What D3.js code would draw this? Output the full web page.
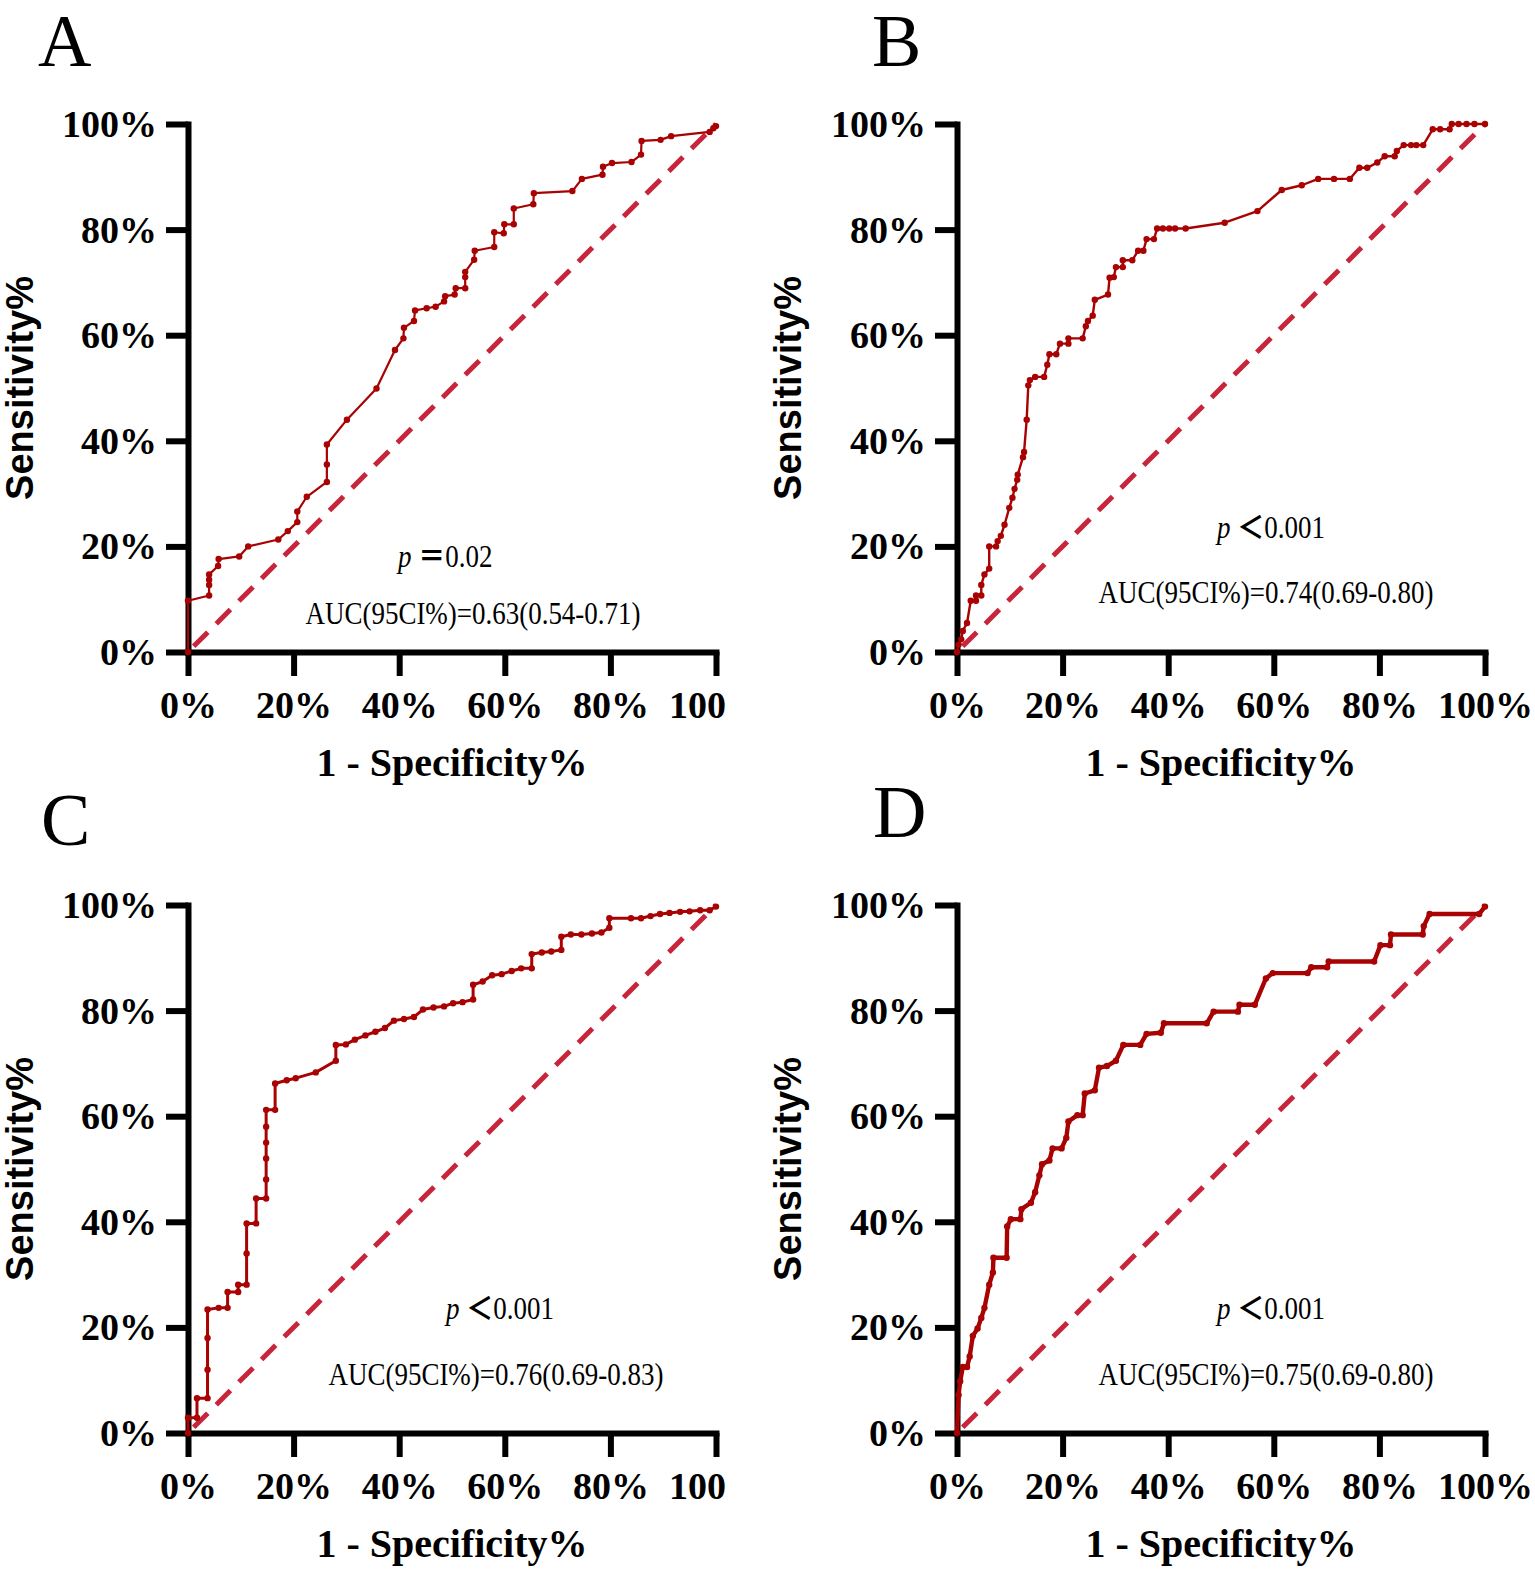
<!DOCTYPE html>
<html>
<head>
<meta charset="utf-8">
<script src="https://cdn.jsdelivr.net/npm/d3@7"></script>
<style>
  html, body { margin: 0; padding: 0; background: #fff; }
  svg { display: block; }
</style>
</head>
<body>
<svg id="chart" width="1535" height="1572"></svg>
<script>
// ---------------- DATA ----------------
const panelLetters = ["A", "B", "C", "D"];

const xTickValues = [0, 20, 40, 60, 80, 100];
const yTickValues = [0, 20, 40, 60, 80, 100];
const xTickLabelsLeft = ["0%", "20%", "40%", "60%", "80%", "100"];
const xTickLabelsRight = ["0%", "20%", "40%", "60%", "80%", "100%"];
const yTickLabels = ["0%", "20%", "40%", "60%", "80%", "100%"];

const xTitle = "1 - Specificity%";
const yTitle = "Sensitivity%";

const pOperators = ["＝", "＜", "＜", "＜"];
const pValues = ["0.02", "0.001", "0.001", "0.001"];
const aucLabels = [
  "AUC(95CI%)=0.63(0.54-0.71)",
  "AUC(95CI%)=0.74(0.69-0.80)",
  "AUC(95CI%)=0.76(0.69-0.83)",
  "AUC(95CI%)=0.75(0.69-0.80)"
];

// Panel A: 1 - specificity (%) and sensitivity (%)
const fprA = [0, 0, 4.0, 4.0, 4.0, 4.0, 5.7, 5.8, 9.7, 11.4, 17.1, 18.9, 20.7, 20.7, 22.5, 26.3, 26.3, 26.3,
  30.1, 35.7, 39.2, 40.8, 40.9, 42.8, 43.0, 45.2, 46.9, 48.5, 48.7, 50.5, 50.7, 52.5, 52.5, 52.5, 54.2, 54.3,
  58.0, 58.0, 59.8, 59.9, 61.7, 61.7, 65.4, 65.5, 72.8, 74.6, 78.5, 78.6, 80.3, 84.0, 85.8, 85.9, 89.5, 91.5,
  98.8, 99.5, 100];
const tprA = [0, 9.7, 10.7, 12.7, 13.7, 14.7, 16.3, 17.6, 18.1, 20.0, 21.3, 22.9, 24.6, 26.6, 29.4, 32.2, 35.5, 39.3,
  44.0, 49.9, 57.2, 59.4, 61.4, 62.7, 64.7, 65.1, 65.4, 66.4, 67.4, 67.7, 68.9, 68.9, 71.0, 72.0, 74.3, 76.0,
  76.7, 79.5, 79.3, 81.0, 81.0, 84.0, 84.8, 86.9, 87.3, 89.6, 90.4, 91.9, 92.6, 92.8, 94.2, 96.8, 97.0, 97.7,
  98.5, 99.2, 99.6];

// Panel B
const fprB = [0, 0.3, 0.8, 1.1, 1.9, 2.6, 3.6, 3.6, 4.6, 4.6, 5.2, 6.1, 6.1, 7.4, 7.7, 8.3, 9.0, 9.9, 10.5, 10.9,
  11.4, 11.5, 12.5, 12.7, 13.2, 13.5, 13.8, 14.8, 16.5, 17.1, 17.5, 18.8, 19.5, 21.1, 21.1, 23.8, 24.4, 24.8,
  25.7, 26.1, 28.6, 28.9, 29.7, 30.1, 31.4, 31.4, 33.2, 34.3, 35.3, 35.9, 37.3, 37.9, 39.0, 40.2, 41.3, 43.3,
  50.7, 56.9, 61.5, 65.3, 68.4, 71.4, 74.4, 76.2, 77.7, 79.6, 81.0, 82.9, 83.3, 84.6, 86.0, 87.0, 88.3, 90.1,
  91.5, 93.3, 93.7, 95.0, 96.5, 98.0, 100];
const tprB = [0, 1.4, 2.4, 4.0, 5.5, 9.7, 9.7, 10.7, 10.7, 12.7, 14.7, 15.8, 20.0, 20.0, 21.0, 22.0, 24.1, 27.3, 29.2, 30.9,
  32.6, 33.6, 36.9, 37.9, 44.0, 50.5, 51.5, 52.1, 52.1, 54.4, 56.4, 56.4, 58.4, 58.4, 59.4, 59.4, 61.7, 62.7,
  63.7, 66.7, 67.7, 70.9, 71.0, 72.9, 72.9, 74.2, 74.2, 76.0, 76.0, 78.2, 78.2, 80.2, 80.2, 80.2, 80.2, 80.2,
  81.3, 83.5, 87.5, 88.4, 89.6, 89.6, 89.6, 91.7, 91.7, 92.7, 93.9, 93.9, 94.9, 96.0, 96.0, 96.0, 96.0, 99.0,
  99.0, 99.0, 100, 100, 100, 100, 100];

// Panel C
const fprC = [0, 0, 1.7, 1.7, 3.7, 3.7, 3.7, 3.7, 5.8, 7.5, 7.5, 9.5, 9.5, 11.1, 11.1, 11.1, 12.9, 12.9, 14.8,
  14.8, 14.8, 14.8, 14.8, 14.8, 16.5, 16.5, 18.7, 20.4, 24.2, 28.0, 28.0, 29.9, 31.6, 33.6, 35.5, 37.3, 39.0,
  40.9, 42.8, 44.5, 46.5, 48.5, 50.2, 52.0, 54.0, 54.0, 55.8, 57.6, 59.4, 61.3, 63.1, 65.1, 65.1, 67.0, 68.8,
  70.7, 70.7, 72.5, 74.5, 76.5, 78.3, 79.8, 79.8, 83.9, 85.8, 87.6, 89.4, 91.2, 93.2, 95.0, 97.0, 98.8, 100];
const tprC = [0, 2.9, 2.9, 6.6, 6.6, 12.0, 18.0, 23.4, 23.7, 23.7, 26.7, 26.7, 28.1, 28.1, 34.0, 39.7, 39.7, 44.4, 44.4,
  48.0, 52.0, 55.0, 58.0, 61.2, 61.2, 66.2, 66.8, 67.2, 68.3, 70.5, 73.5, 73.6, 74.5, 75.3, 76.0, 76.7, 78.1,
  78.4, 78.8, 80.2, 80.6, 80.8, 81.4, 81.6, 82.1, 84.9, 85.5, 86.7, 86.9, 87.5, 88.0, 88.0, 90.7, 91.0, 91.2,
  91.5, 94.0, 94.4, 94.4, 94.6, 94.8, 95.7, 97.5, 97.5, 97.5, 97.9, 98.3, 98.5, 98.7, 98.8, 99.0, 99.0, 99.7];

// Panel D
const fprD = [0, 0.3, 0.6, 1.1, 1.9, 2.4, 3.0, 3.9, 4.6, 5.2, 6.1, 6.8, 6.9, 9.4, 9.5, 10.2, 12.0, 12.2, 14.0,
  14.8, 15.6, 16.1, 17.5, 18.1, 19.8, 20.7, 21.1, 22.8, 23.8, 24.2, 26.1, 26.9, 28.4, 30.1, 31.5, 34.7, 35.9,
  38.6, 39.2, 47.3, 48.6, 53.2, 53.5, 56.4, 58.5, 59.8, 66.4, 67.1, 70.1, 70.4, 79.0, 80.2, 82.0, 82.2, 88.2,
  88.4, 89.5, 98.9, 100];
const tprD = [0, 7.2, 9.8, 12.5, 12.5, 14.5, 18.4, 19.8, 21.8, 23.7, 28.1, 30.4, 33.2, 33.2, 39.1, 40.5, 40.5, 42.4, 43.6,
  45.6, 48.8, 50.9, 51.6, 53.9, 53.9, 55.9, 59.0, 60.2, 60.2, 64.3, 64.9, 69.2, 69.5, 70.5, 73.5, 73.5, 75.6,
  75.8, 77.6, 77.6, 79.8, 79.8, 81.1, 81.1, 86.1, 87.1, 87.1, 88.2, 88.2, 89.3, 89.3, 92.4, 92.4, 94.4, 94.4,
  96.0, 98.3, 98.3, 99.7];

const fprSeries = [fprA, fprB, fprC, fprD];
const tprSeries = [tprA, tprB, tprC, tprD];

// ---------------- LAYOUT / STYLE ----------------
const curveColor = "#a80202";
const diagColor = "#c8253a";
const serif = '"Liberation Serif","Times New Roman",Times,serif';
const sans = '"Liberation Sans",Arial,Helvetica,sans-serif';

const layout = [
  { x0: 188, x1: 716, y0: 652, y1: 124, letterX: 38, letterY: 66, titleYX: 33, pX: 398, pY: 567, aucX: 473, aucY: 624, left: true, lw: 2.2 },
  { x0: 957, x1: 1485, y0: 652, y1: 124, letterX: 872, letterY: 66, titleYX: 801, pX: 1217, pY: 538, aucX: 1266, aucY: 603, left: false, lw: 2.4 },
  { x0: 188, x1: 716, y0: 1433, y1: 905, letterX: 41, letterY: 845, titleYX: 33, pX: 446, pY: 1319, aucX: 496, aucY: 1385, left: true, lw: 3.0 },
  { x0: 957, x1: 1485, y0: 1433, y1: 905, letterX: 873, letterY: 837, titleYX: 801, pX: 1217, pY: 1319, aucX: 1266, aucY: 1385, left: false, lw: 4.4 }
];

const svg = d3.select("#chart");
svg.append("rect").attr("width", 1535).attr("height", 1572).attr("fill", "#fff");

layout.forEach((L, i) => {
  const g = svg.append("g").attr("class", "panel panel-" + panelLetters[i]);
  const x = d3.scaleLinear().domain([0, 100]).range([L.x0, L.x1]);
  const y = d3.scaleLinear().domain([0, 100]).range([L.y0, L.y1]);

  // panel letter
  g.append("text")
    .attr("x", L.letterX).attr("y", L.letterY)
    .style("font-family", serif).style("font-size", "74px")
    .attr("fill", "#000")
    .text(panelLetters[i]);

  // y axis
  const yAxis = d3.axisLeft(y).tickValues(yTickValues)
    .tickFormat((d, k) => yTickLabels[k])
    .tickSize(22).tickSizeOuter(0).tickPadding(9);
  const gy = g.append("g").attr("transform", `translate(${L.x0},0)`).call(yAxis);
  gy.select(".domain").attr("stroke", "#000").attr("stroke-width", 6).attr("stroke-linecap", "square");
  gy.selectAll(".tick line").attr("stroke", "#000").attr("stroke-width", 6);
  gy.selectAll(".tick text")
    .attr("fill", "#000").attr("dy", "0.33em")
    .style("font-family", serif).style("font-size", "38px").style("font-weight", "bold");

  // x axis
  const labels = L.left ? xTickLabelsLeft : xTickLabelsRight;
  const xAxis = d3.axisBottom(x).tickValues(xTickValues)
    .tickFormat((d, k) => labels[k])
    .tickSize(24).tickSizeOuter(0).tickPadding(10);
  const gx = g.append("g").attr("transform", `translate(0,${L.y0})`).call(xAxis);
  gx.select(".domain").attr("stroke", "#000").attr("stroke-width", 6).attr("stroke-linecap", "square");
  gx.selectAll(".tick line").attr("stroke", "#000").attr("stroke-width", 6);
  gx.selectAll(".tick text")
    .attr("fill", "#000").attr("y", 66).attr("dy", 0)
    .style("font-family", serif).style("font-size", "38px").style("font-weight", "bold");
  if (L.left) {
    // the last label is cut ("100"): keep it placed where the full "100%" would be centred
    const tmp = gx.append("text").style("font-family", serif).style("font-size", "38px")
      .style("font-weight", "bold").text("100%");
    const w = tmp.node().getComputedTextLength();
    tmp.remove();
    gx.selectAll(".tick text").filter((d) => d === 100)
      .attr("text-anchor", "start").attr("x", -w / 2);
  }

  // axis titles
  g.append("text")
    .attr("x", (L.x0 + L.x1) / 2).attr("y", L.y0 + 124)
    .attr("text-anchor", "middle")
    .style("font-family", serif).style("font-size", "40px").style("font-weight", "bold")
    .attr("fill", "#000").text(xTitle);
  g.append("text")
    .attr("transform", `translate(${L.titleYX},${(L.y0 + L.y1) / 2}) rotate(-90)`)
    .attr("text-anchor", "middle")
    .style("font-family", sans).style("font-size", "38px").style("font-weight", "bold")
    .attr("fill", "#000").text(yTitle);

  // reference diagonal
  g.append("line")
    .attr("x1", x(0)).attr("y1", y(0)).attr("x2", x(100)).attr("y2", y(100))
    .attr("stroke", diagColor).attr("stroke-width", 5)
    .attr("stroke-dasharray", "20 12").attr("stroke-dashoffset", -8);

  // ROC curve
  const pts = fprSeries[i].map((f, k) => [f, tprSeries[i][k]]);
  g.append("path")
    .datum(pts)
    .attr("fill", "none").attr("stroke", curveColor).attr("stroke-width", L.lw)
    .attr("stroke-linejoin", "round")
    .attr("d", d3.line().x(d => x(d[0])).y(d => y(d[1])));
  g.append("g").selectAll("circle").data(pts).join("circle")
    .attr("cx", d => x(d[0])).attr("cy", d => y(d[1]))
    .attr("r", 3.2).attr("fill", curveColor);

  // annotations
  const pt = g.append("text")
    .attr("transform", `translate(${L.pX},${L.pY}) scale(0.87,1)`)
    .style("font-family", serif).style("font-size", "31px").attr("fill", "#000");
  pt.append("tspan").style("font-style", "italic").text("p");
  pt.append("tspan").text(" ");
  pt.append("tspan").style("font-family", '"Noto Sans CJK SC",' + serif).style("font-weight", "bold").text(pOperators[i]);
  pt.append("tspan").text(pValues[i]);

  g.append("text")
    .attr("transform", `translate(${L.aucX},${L.aucY}) scale(0.87,1)`)
    .attr("text-anchor", "middle")
    .style("font-family", serif).style("font-size", "31px").attr("fill", "#000")
    .text(aucLabels[i]);
});
</script>
</body>
</html>
